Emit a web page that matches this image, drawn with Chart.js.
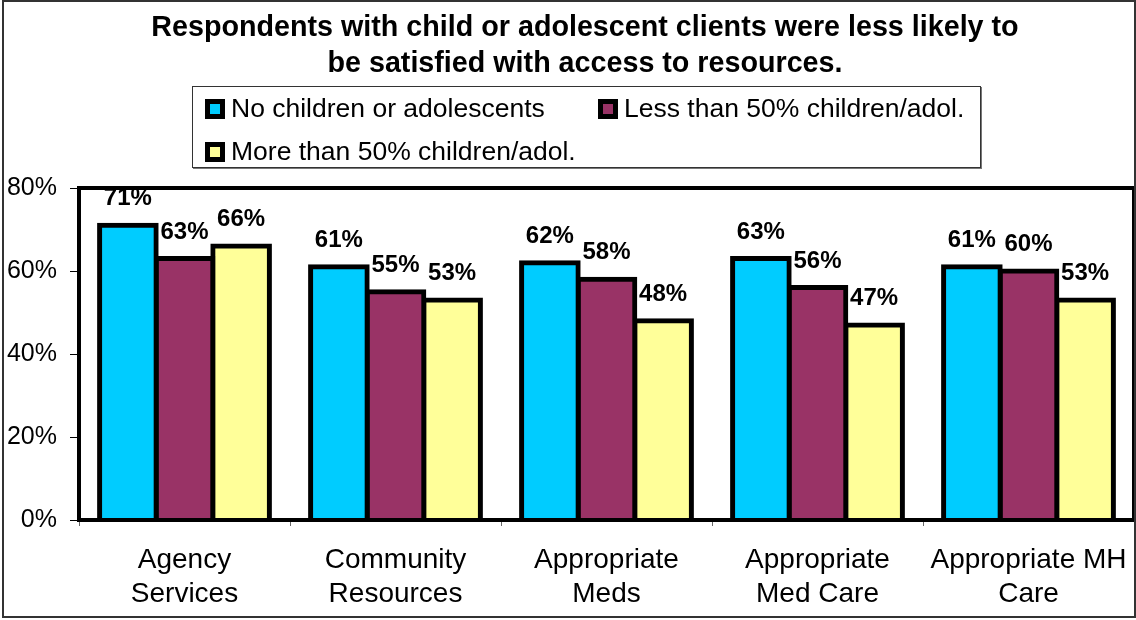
<!DOCTYPE html>
<html>
<head>
<meta charset="utf-8">
<script src="https://cdn.jsdelivr.net/npm/chart.js@4.4.1/dist/chart.umd.min.js"></script>
<style>
  body { margin: 0; background: #fff; }
  #wrap { position: relative; width: 1136px; height: 620px; overflow: hidden; font-family: "Liberation Sans", Arial, sans-serif; }
  #c { position: absolute; left: 0; top: 0; }
  #title { position: absolute; top: 8px; left: 0; width: 1170px; text-align: center; font-weight: bold; font-size: 28.7px; line-height: 36px; color: #000; }
  #legend { position: absolute; left: 192px; top: 86px; width: 789px; height: 82px; box-sizing: border-box; border: 1px solid #333; box-shadow: 1px 1px 0 #777; background: #fff;
            display: grid; grid-template-columns: 393px auto; grid-auto-rows: 43px; padding-left: 12px; }
  .item { display: flex; align-items: center; font-size: 26.5px; color: #000; white-space: nowrap; }
  .sw { width: 20px; height: 20px; box-sizing: border-box; border: 5px solid #000; margin-right: 6px; }
  #outline { position: absolute; left: 2px; top: 0; right: 0; bottom: 2px; border: 2px solid #333; pointer-events: none; }
</style>
</head>
<body>
<div id="wrap">
  <canvas id="c" width="1136" height="620"></canvas>
  <div id="title">Respondents with child or adolescent clients were less likely to<br>be satisfied with access to resources.</div>
  <div id="legend"></div>
  <div id="outline"></div>
</div>
<script>
// categorias (rótulos em duas linhas)
const categories = [
  ['Agency', 'Services'],
  ['Community', 'Resources'],
  ['Appropriate', 'Meds'],
  ['Appropriate', 'Med Care'],
  ['Appropriate MH', 'Care']
];

// séries
const seriesNames = ['No children or adolescents', 'Less than 50% children/adol.', 'More than 50% children/adol.'];
const seriesColors = ['#00CCFF', '#993366', '#FFFF99'];
const noChildren = [71, 61, 62, 63, 61];
const lessThanHalf = [63, 55, 58, 56, 60];
const moreThanHalf = [66, 53, 48, 47, 53];

// eixo y
const yMax = 80;
const yStep = 20;

const FONT = '"Liberation Sans", Arial, sans-serif';

// legenda em HTML
const legendBox = document.getElementById('legend');
seriesNames.forEach(function(name, i) {
  const item = document.createElement('div');
  item.className = 'item';
  const sw = document.createElement('span');
  sw.className = 'sw';
  sw.style.background = seriesColors[i];
  item.appendChild(sw);
  item.appendChild(document.createTextNode(name));
  legendBox.appendChild(item);
});

// moldura da área do gráfico + rótulos dos valores
const framePlugin = {
  id: 'frame',
  afterDatasetsDraw(chart) {
    const ctx = chart.ctx;
    const a = chart.chartArea;
    ctx.save();
    ctx.lineWidth = 4;
    ctx.strokeStyle = '#000';
    ctx.strokeRect(a.left, a.top, a.right - a.left, a.bottom - a.top);

    ctx.font = 'bold 24px ' + FONT;
    ctx.fillStyle = '#000';
    ctx.textAlign = 'center';
    ctx.textBaseline = 'alphabetic';
    chart.data.datasets.forEach(function(ds, i) {
      chart.getDatasetMeta(i).data.forEach(function(bar, j) {
        ctx.fillText(ds.data[j] + '%', bar.x, bar.y - 20);
      });
    });
    ctx.restore();
  }
};

const allSeries = [noChildren, lessThanHalf, moreThanHalf];

new Chart(document.getElementById('c'), {
  type: 'bar',
  data: {
    labels: categories,
    datasets: allSeries.map(function(vals, i) {
      return {
        label: seriesNames[i],
        data: vals,
        backgroundColor: seriesColors[i],
        borderColor: '#000',
        borderWidth: 5,
        inflateAmount: 2.5,
        categoryPercentage: 0.805,
        barPercentage: 1.0
      };
    })
  },
  options: {
    responsive: false,
    animation: false,
    devicePixelRatio: 1,
    layout: { padding: { top: 188, right: 2, left: 0, bottom: 0 } },
    plugins: {
      legend: { display: false },
      title: { display: false },
      tooltip: { enabled: false }
    },
    scales: {
      x: {
        border: { display: false },
        grid: { drawOnChartArea: false, offset: true, tickLength: 6, color: '#666' },
        ticks: { font: { size: 28, family: FONT, lineHeight: 1.22 }, color: '#000', padding: 17, maxRotation: 0, autoSkip: false },
        afterFit: function(s) { s.height = 100; s.paddingLeft = 0; s.paddingRight = 0; }
      },
      y: {
        min: 0,
        max: yMax,
        border: { display: false },
        grid: { drawOnChartArea: false, tickLength: 9, color: '#000' },
        ticks: { stepSize: yStep, font: { size: 25, family: FONT }, color: '#000', padding: 13,
                 callback: function(v) { return v + '%'; } },
        afterFit: function(s) { s.width = 79; }
      }
    }
  },
  plugins: [framePlugin]
});
</script>
</body>
</html>
